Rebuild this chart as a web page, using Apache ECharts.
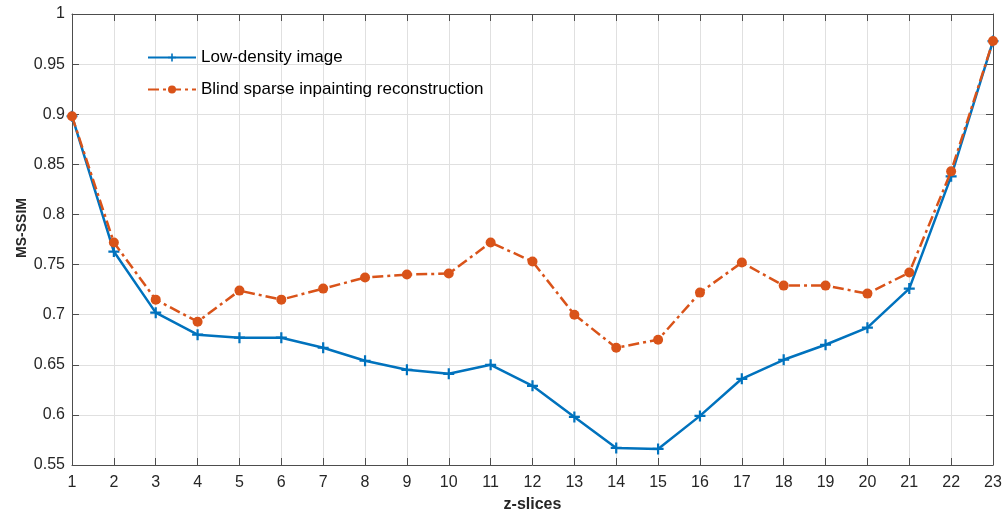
<!DOCTYPE html>
<html>
<head>
<meta charset="utf-8">
<script src="https://cdn.jsdelivr.net/npm/echarts@6/dist/echarts.min.js"></script>
<style>
  html, body { margin: 0; padding: 0; background: #fff; }
  #chart { width: 1005px; height: 512px; }
</style>
</head>
<body>
<div id="chart"></div>
<script>
// z-slice indices
const slices = [1, 2, 3, 4, 5, 6, 7, 8, 9, 10, 11, 12, 13, 14, 15, 16, 17, 18, 19, 20, 21, 22, 23];

// MS-SSIM per slice
const lowDensity = [0.898, 0.763, 0.702, 0.680, 0.677, 0.677, 0.667, 0.654, 0.645, 0.641, 0.650,
                    0.629, 0.598, 0.567, 0.566, 0.599, 0.636, 0.655, 0.670, 0.687, 0.726, 0.838, 0.973];
const blindSparse = [0.898, 0.772, 0.715, 0.693, 0.724, 0.715, 0.726, 0.737, 0.740, 0.741, 0.772,
                     0.753, 0.700, 0.667, 0.675, 0.722, 0.752, 0.729, 0.729, 0.721, 0.742, 0.843, 0.973];

const seriesNames = ['Low-density image', 'Blind sparse inpainting reconstruction'];
const xName = 'z-slices';
const yName = 'MS-SSIM';

const pair = (ys) => slices.map((x, i) => [x, ys[i]]);

const FONT = 'Liberation Sans, Arial, Helvetica, sans-serif';
const AXIS_COLOR = '#4d4d4d';
const TEXT_COLOR = '#262626';
const PLUS = 'path://M4,0H6V4H10V6H6V10H4V6H0V4H4Z';

const chart = echarts.init(document.getElementById('chart'), null, { renderer: 'canvas' });

const frameAxis = {
  axisLine: { show: true, lineStyle: { color: AXIS_COLOR, width: 1 } },
  axisTick: { show: true, inside: true, length: 7, lineStyle: { color: AXIS_COLOR } },
  axisLabel: { show: false },
  splitLine: { show: false }
};

chart.setOption({
  animation: false,
  backgroundColor: '#ffffff',
  textStyle: { fontFamily: FONT },
  grid: { left: 72, right: 12, top: 14, bottom: 47, containLabel: false, outerBoundsMode: 'none' },
  legend: {
    orient: 'vertical',
    left: 142,
    top: 44,
    itemWidth: 48,
    itemHeight: 10,
    itemGap: 15,
    textStyle: { fontFamily: FONT, fontSize: 17, color: '#000' },
    data: seriesNames
  },
  // vertical y-axis title
  graphic: [{
    type: 'text',
    x: 22,
    y: 228,
    rotation: Math.PI / 2,
    style: {
      text: yName,
      font: 'bold 14px ' + FONT,
      fill: TEXT_COLOR,
      align: 'center',
      verticalAlign: 'middle'
    }
  }],
  xAxis: [
    {
      type: 'value', min: 1, max: 23, interval: 1,
      name: xName, nameLocation: 'middle', nameGap: 32,
      nameTextStyle: { fontFamily: FONT, fontSize: 16, fontWeight: 'bold', color: TEXT_COLOR },
      axisLine: { show: true, onZero: false, lineStyle: { color: AXIS_COLOR, width: 1 } },
      axisTick: { show: true, inside: true, length: 7, lineStyle: { color: AXIS_COLOR } },
      axisLabel: { fontFamily: FONT, fontSize: 16, color: TEXT_COLOR, margin: 10 },
      splitLine: { show: true, lineStyle: { color: '#e0e0e0', width: 1 } }
    },
    Object.assign({ type: 'value', min: 1, max: 23, interval: 1, position: 'top' }, frameAxis)
  ],
  yAxis: [
    {
      type: 'value', min: 0.55, max: 1, interval: 0.05,
      axisLine: { show: true, onZero: false, lineStyle: { color: AXIS_COLOR, width: 1 } },
      axisTick: { show: true, inside: true, length: 7, lineStyle: { color: AXIS_COLOR } },
      axisLabel: {
        fontFamily: FONT, fontSize: 16, color: TEXT_COLOR, margin: 7,
        formatter: (v) => String(parseFloat(v.toFixed(2)))
      },
      splitLine: { show: true, lineStyle: { color: '#e0e0e0', width: 1 } }
    },
    Object.assign({ type: 'value', min: 0.55, max: 1, interval: 0.05, position: 'right' }, frameAxis)
  ],
  series: [
    {
      name: seriesNames[0],
      type: 'line',
      data: pair(lowDensity),
      symbol: PLUS,
      symbolSize: 11,
      showAllSymbol: true,
      color: '#0072BD',
      lineStyle: { width: 2.5, color: '#0072BD' },
      itemStyle: { color: '#0072BD' },
      z: 3
    },
    {
      name: seriesNames[1],
      type: 'line',
      data: pair(blindSparse),
      symbol: 'circle',
      symbolSize: 10,
      showAllSymbol: true,
      color: '#D95319',
      lineStyle: { width: 2.5, color: '#D95319', type: [11, 4, 3, 4] },
      itemStyle: { color: '#D95319' },
      z: 4
    }
  ]
});
</script>
</body>
</html>
